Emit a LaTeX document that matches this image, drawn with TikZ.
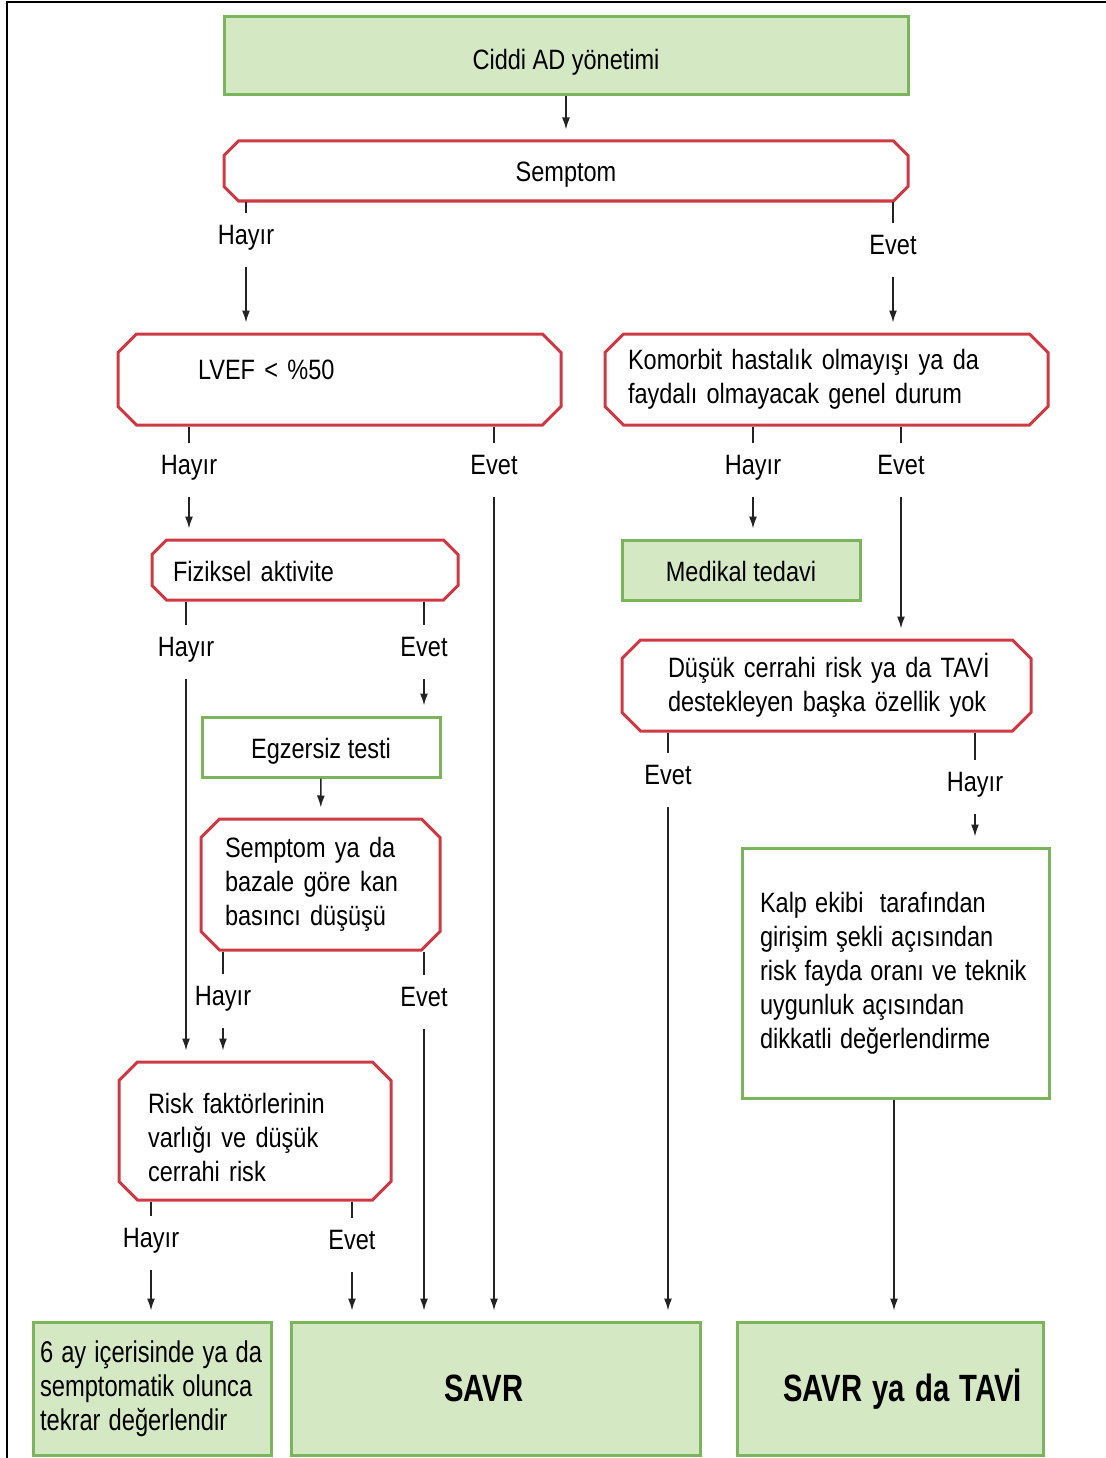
\documentclass[tikz,border=0pt]{standalone}
\usepackage{fontspec}
\setmainfont{Liberation Sans}[FakeStretch=0.84]
\newfontfamily\narrowbold{Liberation Sans}[FakeStretch=0.77]
\newfontfamily\narrowsix{Liberation Sans}[FakeStretch=0.79]
\usetikzlibrary{shapes.misc,arrows.meta}
\definecolor{boxred}{RGB}{206,58,68}
\definecolor{boxgreen}{RGB}{122,181,92}
\definecolor{lightgreen}{RGB}{213,232,196}
\definecolor{linegray}{RGB}{35,35,35}
\begin{document}
\begin{tikzpicture}[x=1pt,y=-1pt]
    \tikzstyle{every node}=[font=\fontsize{28pt}{34pt}\selectfont, inner sep=0pt]
    \tikzstyle{question}=[chamfered rectangle, chamfered rectangle xsep=15pt, draw=boxred, line width=3pt, fill=white]
    \tikzstyle{result}=[rectangle, draw=boxgreen, line width=3pt, fill=lightgreen]
    \tikzstyle{action}=[rectangle, draw=boxgreen, line width=3pt, fill=white]
    \tikzstyle{oneline}=[text height=22pt, text depth=0pt]
    \tikzstyle{narrowspace}=[execute at begin node={\spaceskip=0.27em\relax}]
    \tikzstyle{answer}=[text height=20pt, text depth=12pt, inner ysep=11pt]
    \tikzstyle{bigbold}=[font=\narrowbold\bfseries\fontsize{38pt}{40pt}\selectfont, align=left, narrowspace]
    \tikzstyle{link}=[linegray, line width=1.5pt]
    \tikzstyle{arrow}=[link, -{Latex[length=12pt,width=8pt]}, shorten >=10pt]
    \useasboundingbox (0,0) rectangle (1105,1458);
    \draw[line width=2pt] (7,1462) -- (7,2) -- (1108,2);

    % boxes
    \node[result, oneline, text height=28pt, minimum width=684pt, minimum height=78pt] (start) at (566,56) {Ciddi AD yönetimi};
    \node[question, oneline, minimum width=684pt, minimum height=60pt] (symp) at (566,171) {Semptom};
    \node[question, minimum width=443pt, minimum height=91pt, inner xsep=65pt, text width=283pt, align=left] (lvef) at (339.5,379.5) {\raisebox{19pt}{LVEF < \%50}};
    \node[question, minimum width=443pt, minimum height=91pt, inner xsep=8pt, text width=397pt, align=left] (comorb) at (826.5,379.5) {\mbox{Komorbit hastalık olmayışı ya da}\\\mbox{faydalı olmayacak genel durum}};
    \node[question, oneline, minimum width=306pt, minimum height=60pt, inner xsep=6pt, text width=264pt, align=left] (phys) at (305,570) {Fiziksel aktivite};
    \node[result, oneline, minimum width=238pt, minimum height=60pt] (medical) at (741,570) {Medikal tedavi};
    \node[question, minimum width=409pt, minimum height=91pt, inner xsep=31pt, text width=317pt, align=left] (lowrisk) at (826.5,685.5) {\mbox{Düşük cerrahi risk ya da TAVİ}\\\mbox{destekleyen başka özellik yok}};
    \node[action, oneline, minimum width=238pt, minimum height=60pt] (exercise) at (321,747) {Egzersiz testi};
    \node[question, minimum width=239pt, minimum height=131pt, inner xsep=9pt, text width=191pt, align=left] (bpdrop) at (320.5,884.5) {\mbox{Semptom ya da}\\\mbox{bazale göre kan}\\\mbox{basıncı düşüşü}};
    \node[action, minimum width=307pt, minimum height=250pt, inner xsep=18pt, text width=271pt, align=left, execute at begin node={\spaceskip=0.29em\relax}] (heartteam) at (895.5,973) {\mbox{Kalp ekibi \ tarafından}\\\mbox{girişim şekli açısından}\\\mbox{risk fayda oranı ve teknik}\\\mbox{uygunluk açısından}\\\mbox{dikkatli değerlendirme}};
    \node[question, minimum width=272pt, minimum height=138pt, inner xsep=14pt, text width=214pt, align=left] (riskf) at (255,1131) {\rule{0pt}{33pt}\mbox{Risk faktörlerinin}\\\mbox{varlığı ve düşük}\\\mbox{cerrahi risk}};
    \node[result, minimum width=238pt, minimum height=133pt, inner xsep=7pt, text width=224pt, align=left, narrowspace, font=\narrowsix\fontsize{30pt}{34pt}\selectfont] (reeval) at (152,1388.5) {\mbox{6 ay içerisinde ya da}\\\mbox{semptomatik olunca}\\\mbox{tekrar değerlendir}};
    \node[result, bigbold, oneline, text height=26pt, minimum width=409pt, minimum height=133pt, inner xsep=153pt, text width=103pt] (savr) at (495.5,1388.5) {SAVR};
    \node[result, bigbold, oneline, text height=26pt, minimum width=306pt, minimum height=133pt, inner xsep=46pt, text width=214pt] (savrtavi) at (890,1388.5) {\mbox{SAVR ya da TAVİ}};

    % answers
    \node[answer] (sympno) at (246,240) {Hayır};
    \node[answer] (sympyes) at (893,250) {Evet};
    \node[answer] (lvefno) at (189,470) {Hayır};
    \node[answer] (lvefyes) at (494,470) {Evet};
    \node[answer] (comorbno) at (753,470) {Hayır};
    \node[answer] (comorbyes) at (901,470) {Evet};
    \node[answer] (physno) at (186,652) {Hayır};
    \node[answer] (physyes) at (424,652) {Evet};
    \node[answer] (bpdropno) at (223,1001) {Hayır};
    \node[answer] (bpdropyes) at (424,1002) {Evet};
    \node[answer] (lowriskyes) at (668,780) {Evet};
    \node[answer] (lowriskno) at (975,787) {Hayır};
    \node[answer] (riskfno) at (151,1243) {Hayır};
    \node[answer] (riskfyes) at (352,1245) {Evet};

    % connectors
    \draw[arrow] (start) -- (symp);
    \draw[link] (symp.south -| sympno) -- (sympno);
    \draw[arrow] (sympno) -- (lvef.north -| sympno);
    \draw[link] (symp.south -| sympyes) -- (sympyes);
    \draw[arrow] (sympyes) -- (comorb.north -| sympyes);
    \draw[link] (lvef.south -| lvefno) -- (lvefno);
    \draw[arrow] (lvefno) -- (phys.north -| lvefno);
    \draw[link] (lvef.south -| lvefyes) -- (lvefyes);
    \draw[arrow] (lvefyes) -- (savr.north -| lvefyes);
    \draw[link] (comorb.south -| comorbno) -- (comorbno);
    \draw[arrow] (comorbno) -- (medical.north -| comorbno);
    \draw[link] (comorb.south -| comorbyes) -- (comorbyes);
    \draw[arrow] (comorbyes) -- (lowrisk.north -| comorbyes);
    \draw[link] (phys.south -| physno) -- (physno);
    \draw[arrow] (physno) -- (riskf.north -| physno);
    \draw[link] (phys.south -| physyes) -- (physyes);
    \draw[arrow] (physyes) -- (exercise.north -| physyes);
    \draw[arrow] (exercise) -- (bpdrop);
    \draw[link] (bpdrop.south -| bpdropno) -- (bpdropno);
    \draw[arrow] (bpdropno) -- (riskf.north -| bpdropno);
    \draw[link] (bpdrop.south -| bpdropyes) -- (bpdropyes);
    \draw[arrow] (bpdropyes) -- (savr.north -| bpdropyes);
    \draw[link] (lowrisk.south -| lowriskyes) -- (lowriskyes);
    \draw[arrow] (lowriskyes) -- (savr.north -| lowriskyes);
    \draw[link] (lowrisk.south -| lowriskno) -- (lowriskno);
    \draw[arrow] (lowriskno) -- (heartteam.north -| lowriskno);
    \draw[arrow] (heartteam.south -| 894,0) -- (savrtavi.north -| 894,0);
    \draw[link] (riskf.south -| riskfno) -- (riskfno);
    \draw[arrow] (riskfno) -- (reeval.north -| riskfno);
    \draw[link] (riskf.south -| riskfyes) -- (riskfyes);
    \draw[arrow] (riskfyes) -- (savr.north -| riskfyes);
\end{tikzpicture}
\end{document}
